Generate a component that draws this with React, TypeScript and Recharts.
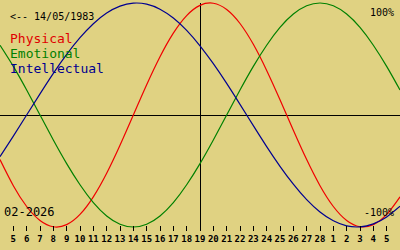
import React from 'react';
import { LineChart, Line, XAxis, YAxis, ReferenceLine } from 'recharts';

// one point per day, d = 0 is the day before the first tick (04/02)
const DAYS = [0, 1, 2, 3, 4, 5, 6, 7, 8, 9, 10, 11, 12, 13, 14, 15, 16, 17, 18, 19, 20, 21, 22, 23, 24, 25, 26, 27, 28, 29, 30];
const PHYSICAL = [-0.398, -0.631, -0.817, -0.942, -0.998, -0.979, -0.888, -0.731, -0.52, -0.27, 0, 0.27, 0.52, 0.731, 0.888, 0.979, 0.998, 0.942, 0.817, 0.631, 0.398, 0.136, -0.136, -0.398, -0.631, -0.817, -0.942, -0.998, -0.979, -0.888, -0.731];
const EMOTIONAL = [0.623, 0.434, 0.223, 0, -0.223, -0.434, -0.623, -0.782, -0.901, -0.975, -1, -0.975, -0.901, -0.782, -0.623, -0.434, -0.223, 0, 0.223, 0.434, 0.623, 0.782, 0.901, 0.975, 1, 0.975, 0.901, 0.782, 0.623, 0.434, 0.223];
const INTELLECTUAL = [-0.372, -0.189, 0, 0.189, 0.372, 0.541, 0.69, 0.815, 0.91, 0.972, 0.999, 0.99, 0.945, 0.866, 0.756, 0.618, 0.458, 0.282, 0.095, -0.095, -0.282, -0.458, -0.618, -0.756, -0.866, -0.945, -0.99, -0.999, -0.972, -0.91, -0.815];

const TICK_DAYS = [1, 2, 3, 4, 5, 6, 7, 8, 9, 10, 11, 12, 13, 14, 15, 16, 17, 18, 19, 20, 21, 22, 23, 24, 25, 26, 27, 28, 29];
const TICK_LABELS = ['5', '6', '7', '8', '9', '10', '11', '12', '13', '14', '15', '16', '17', '18', '19', '20', '21', '22', '23', '24', '25', '26', '27', '28', '1', '2', '3', '4', '5'];
const TODAY = 15;

const data = DAYS.map((d, i) => ({
  d,
  physical: PHYSICAL[i],
  emotional: EMOTIONAL[i],
  intellectual: INTELLECTUAL[i],
}));

const MONO = '"DejaVu Sans Mono", monospace';

const DayTick = ({ x, payload }: any) => {
  const label = TICK_LABELS[TICK_DAYS.indexOf(payload.value)];
  return (
    <g>
      <line x1={x} x2={x} y1={226} y2={231} stroke="#000" strokeWidth={1} shapeRendering="crispEdges" />
      <text x={x} y={242} textAnchor="middle" fontFamily={MONO} fontSize={9} fontWeight="bold" fill="#000">
        {label}
      </text>
    </g>
  );
};

export default function App() {
  return (
    <div style={{ position: 'fixed', left: 0, top: 0, width: 400, height: 250, background: '#e0d282' }}>
      <LineChart width={400} height={250} data={data} margin={{ top: 3, right: 0, bottom: 0, left: 0 }}>
        <XAxis
          type="number"
          dataKey="d"
          domain={[0, 30]}
          ticks={TICK_DAYS}
          interval={0}
          height={23}
          axisLine={false}
          tickLine={false}
          tick={<DayTick />}
        />
        <YAxis hide domain={[-1, 1]} />
        <ReferenceLine y={0} stroke="#000" strokeWidth={1} shapeRendering="crispEdges" />
        <ReferenceLine x={TODAY} stroke="#000" strokeWidth={1} shapeRendering="crispEdges" />
        <Line type="natural" dataKey="physical" stroke="#f00000" strokeWidth={1.2} dot={false} isAnimationActive={false} />
        <Line type="natural" dataKey="emotional" stroke="#008000" strokeWidth={1.2} dot={false} isAnimationActive={false} />
        <Line type="natural" dataKey="intellectual" stroke="#000090" strokeWidth={1.2} dot={false} isAnimationActive={false} />
      </LineChart>
      <svg width={400} height={250} style={{ position: 'absolute', left: 0, top: 0, pointerEvents: 'none' }}>
        <text x={10} y={20} fontFamily={MONO} fontSize={10} fill="#000">{'<-- 14/05/1983'}</text>
        <text x={10} y={43} fontFamily={MONO} fontSize={13} fill="#e00000">Physical</text>
        <text x={10} y={58} fontFamily={MONO} fontSize={13} fill="#008000">Emotional</text>
        <text x={10} y={73} fontFamily={MONO} fontSize={13} fill="#000090">Intellectual</text>
        <text x={394} y={16} textAnchor="end" fontFamily={MONO} fontSize={10} fill="#000">100%</text>
        <text x={394} y={216} textAnchor="end" fontFamily={MONO} fontSize={10} fill="#000">-100%</text>
        <text x={4} y={216} fontFamily={MONO} fontSize={12} fill="#000">02-2026</text>
      </svg>
    </div>
  );
}
